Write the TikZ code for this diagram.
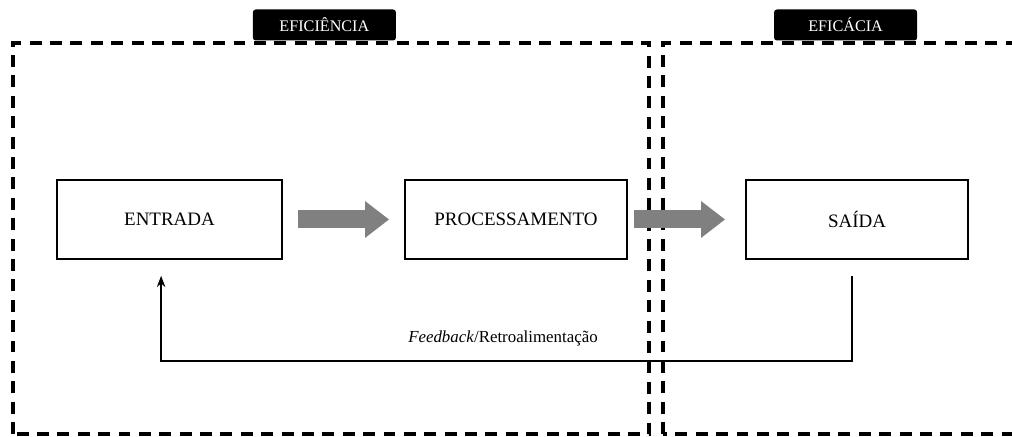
\documentclass[tikz,border=0pt]{standalone}
\usepackage{fontspec}
\setmainfont{Liberation Serif}
\usetikzlibrary{arrows.meta}

\tikzset{
    etapa/.style={draw, line width=1.2pt, minimum width=5.55cm, minimum height=1.975cm, font=\fontsize{13.5}{16}\selectfont},
    rotulo/.style={fill=black, text=white, rounded corners=2pt, minimum width=3.575cm, minimum height=0.775cm, font=\fontsize{11.5}{13}\selectfont},
    zona/.style={line width=2.4pt, dash pattern=on 8.5pt off 6pt},
    seta/.style={gray, line width=0.45cm, -{Triangle[length=0.6cm, width=0.875cm]}},
}

\begin{document}
\begin{tikzpicture}
        \useasboundingbox (0,0) rectangle (25.3,10.925);
        \clip (0,0) rectangle (25.3,10.925);

        % Zones
        \draw[zona] (0.325,0.075) rectangle (16.225,9.85);
        \draw[zona] (16.575,0.075) rectangle (25.45,9.85);

        \node[rotulo] (eficiencia) at (8.11,10.3) {EFICIÊNCIA};
        \node[rotulo] (eficacia) at (21.14,10.3) {EFICÁCIA};

        % Steps
        \node[etapa, minimum width=5.625cm] (entrada) at (4.2375,5.4375) {ENTRADA};
        \node[etapa] (processamento) at (12.9,5.4375) {PROCESSAMENTO};
        \node[etapa] (saida) at (21.425,5.4375) {SAÍDA};

        \draw[seta, shorten <=0.375cm, shorten >=0.375cm] (entrada) -- (processamento);
        \draw[seta, shorten <=0.15cm, shorten >=0.5cm] (processamento) -- (saida);

        % Feedback
        \coordinate (retorno) at ([xshift=-0.125cm]saida.south |- 0,1.9);
        \draw[line width=1.1pt, -{Stealth[length=8pt, width=6pt]}] ([xshift=-0.125cm, yshift=-0.4cm]saida.south) -- (retorno) -| ([xshift=-0.21cm, yshift=-0.4cm]entrada.south);
        \node[font=\fontsize{12}{14}\selectfont] (feedback) at (12.575,2.475) {\textit{Feedback}/Retroalimentação};
    \end{tikzpicture}
\end{document}
